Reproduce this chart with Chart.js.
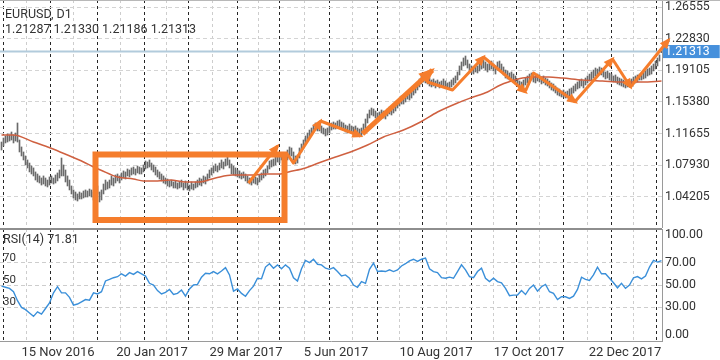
<!DOCTYPE html>
<html><head><meta charset="utf-8">
<script src="https://cdn.jsdelivr.net/npm/chart.js@4.4.1/dist/chart.umd.min.js"></script>
<style>
html,body{margin:0;padding:0;background:#fff}
#wrap{position:relative;width:720px;height:360px;overflow:hidden;background:#fff;font-family:Roboto,"DejaVu Sans",sans-serif;color:#333}
canvas{position:absolute;left:0}
.txt{position:absolute;white-space:nowrap;line-height:14px}
.rule{position:absolute;background:#8e8e8e}
</style></head><body>
<div id="wrap">
  <canvas id="cMain" width="720" height="228" style="top:0"></canvas>
  <canvas id="cRsi" width="720" height="131" style="top:229px"></canvas>
  <div class="rule" style="left:0;top:0;width:720px;height:1px;background:#b8b8b8"></div>
  <div class="rule" style="left:0;top:228px;width:662px;height:2px"></div>
  <div class="txt" id="tSym" style="left:5px;top:7px;font-size:12.5px"></div>
  <div class="txt" id="tOhlc" style="left:5px;top:22px;font-size:12.5px"></div>
  <div class="txt" id="tRsi" style="left:3px;top:232px;font-size:12.5px"></div>
</div>
<script>
// EURUSD D1 with moving average, hand-drawn trend annotations and RSI(14) pane.
Chart.defaults.font.family = "Roboto, 'DejaVu Sans', sans-serif";
Chart.defaults.color = "#333";
const $ = id => document.getElementById(id);
const ORANGE = "#f57d2c";

const symbol = "EURUSD", timeframe = "D1";
const ohlc = [1.21287, 1.21330, 1.21186, 1.21313];

// daily bars (one per bar index)
const highs = [
  1.1067,1.1114,1.1138,1.1162,1.1150,1.1185,1.1150,1.1173,1.1291,1.1091,
  1.1009,1.0950,1.0903,1.0856,1.0820,1.0785,1.0762,1.0715,1.0691,1.0668,
  1.0644,1.0668,1.0644,1.0620,1.0656,1.0668,1.0644,1.0679,1.0703,1.0738,
  1.0879,1.0797,1.0738,1.0668,1.0620,1.0550,1.0503,1.0479,1.0456,1.0479,
  1.0467,1.0491,1.0503,1.0491,1.0514,1.0503,1.0479,1.0526,1.0550,1.0479,
  1.0503,1.0573,1.0620,1.0597,1.0620,1.0668,1.0644,1.0679,1.0691,1.0668,
  1.0703,1.0727,1.0715,1.0750,1.0738,1.0762,1.0773,1.0750,1.0785,1.0773,
  1.0762,1.0797,1.0844,1.0832,1.0856,1.0820,1.0797,1.0773,1.0738,1.0715,
  1.0691,1.0668,1.0644,1.0632,1.0609,1.0620,1.0597,1.0609,1.0585,1.0597,
  1.0620,1.0585,1.0609,1.0585,1.0561,1.0597,1.0573,1.0597,1.0620,1.0644,
  1.0632,1.0668,1.0656,1.0691,1.0738,1.0762,1.0785,1.0809,1.0785,1.0820,
  1.0856,1.0832,1.0867,1.0891,1.0856,1.0809,1.0785,1.0762,1.0738,1.0727,
  1.0703,1.0715,1.0691,1.0668,1.0644,1.0632,1.0668,1.0656,1.0644,1.0679,
  1.0703,1.0738,1.0750,1.0785,1.0844,1.0856,1.0867,1.0891,1.0914,1.0903,
  1.0938,1.0903,1.0926,1.0973,1.1009,1.0997,1.0950,1.0903,1.0914,1.0997,
  1.1044,1.1091,1.1138,1.1173,1.1208,1.1232,1.1267,1.1291,1.1267,1.1279,
  1.1256,1.1232,1.1220,1.1232,1.1256,1.1291,1.1303,1.1291,1.1314,1.1326,
  1.1303,1.1291,1.1267,1.1256,1.1279,1.1256,1.1244,1.1256,1.1232,1.1220,
  1.1232,1.1279,1.1338,1.1397,1.1444,1.1467,1.1456,1.1432,1.1409,1.1420,
  1.1444,1.1432,1.1420,1.1456,1.1479,1.1467,1.1503,1.1526,1.1550,1.1573,
  1.1609,1.1597,1.1632,1.1656,1.1644,1.1679,1.1703,1.1726,1.1762,1.1809,
  1.1844,1.1856,1.1832,1.1844,1.1820,1.1797,1.1809,1.1785,1.1797,1.1773,
  1.1785,1.1809,1.1785,1.1762,1.1773,1.1797,1.1820,1.1844,1.1891,1.1962,
  1.2009,1.2056,1.2079,1.2032,1.1985,1.1962,1.1950,1.1973,1.1962,1.1985,
  1.2009,1.2032,1.2009,1.1985,1.1997,1.2020,1.1985,1.1962,1.2009,1.2020,
  1.1985,1.1950,1.1914,1.1903,1.1879,1.1891,1.1867,1.1844,1.1809,1.1785,
  1.1773,1.1797,1.1820,1.1844,1.1867,1.1879,1.1856,1.1844,1.1867,1.1856,
  1.1832,1.1844,1.1820,1.1809,1.1785,1.1762,1.1750,1.1726,1.1703,1.1691,
  1.1667,1.1679,1.1656,1.1667,1.1691,1.1703,1.1726,1.1750,1.1773,1.1797,
  1.1809,1.1785,1.1820,1.1844,1.1867,1.1891,1.1914,1.1938,1.1926,1.1950,
  1.1938,1.1914,1.1891,1.1903,1.1879,1.1867,1.1844,1.1856,1.1832,1.1820,
  1.1809,1.1797,1.1773,1.1797,1.1785,1.1809,1.1832,1.1844,1.1856,1.1867,
  1.1879,1.1891,1.1903,1.1926,1.1938,1.1962,1.1985,1.2020,1.2056,1.2092,
  1.2133];
const lows = [
  1.0973,1.1020,1.1056,1.1067,1.1079,1.1091,1.1056,1.1079,1.1067,1.0950,
  1.0903,1.0856,1.0797,1.0762,1.0715,1.0691,1.0668,1.0620,1.0597,1.0585,
  1.0561,1.0573,1.0550,1.0538,1.0561,1.0585,1.0573,1.0585,1.0609,1.0644,
  1.0668,1.0668,1.0597,1.0550,1.0503,1.0456,1.0409,1.0385,1.0373,1.0397,
  1.0397,1.0409,1.0420,1.0420,1.0432,1.0420,1.0385,1.0432,1.0456,1.0362,
  1.0385,1.0456,1.0503,1.0514,1.0526,1.0561,1.0550,1.0585,1.0609,1.0585,
  1.0620,1.0644,1.0632,1.0668,1.0656,1.0679,1.0691,1.0679,1.0703,1.0691,
  1.0691,1.0715,1.0750,1.0762,1.0773,1.0738,1.0715,1.0679,1.0656,1.0632,
  1.0609,1.0585,1.0573,1.0550,1.0538,1.0550,1.0526,1.0526,1.0514,1.0526,
  1.0538,1.0503,1.0526,1.0503,1.0491,1.0514,1.0503,1.0526,1.0538,1.0561,
  1.0550,1.0585,1.0573,1.0609,1.0644,1.0679,1.0703,1.0727,1.0715,1.0738,
  1.0762,1.0750,1.0785,1.0797,1.0762,1.0691,1.0679,1.0668,1.0656,1.0644,
  1.0632,1.0644,1.0609,1.0585,1.0573,1.0561,1.0585,1.0573,1.0561,1.0597,
  1.0620,1.0644,1.0668,1.0703,1.0750,1.0773,1.0785,1.0797,1.0832,1.0820,
  1.0856,1.0820,1.0844,1.0856,1.0891,1.0903,1.0856,1.0809,1.0820,1.0879,
  1.0950,1.0997,1.1044,1.1079,1.1114,1.1150,1.1185,1.1208,1.1197,1.1197,
  1.1173,1.1161,1.1138,1.1150,1.1173,1.1208,1.1220,1.1220,1.1232,1.1244,
  1.1232,1.1208,1.1185,1.1173,1.1197,1.1185,1.1161,1.1173,1.1150,1.1138,
  1.1138,1.1173,1.1232,1.1291,1.1350,1.1385,1.1373,1.1350,1.1338,1.1350,
  1.1362,1.1350,1.1338,1.1373,1.1397,1.1385,1.1409,1.1432,1.1467,1.1491,
  1.1514,1.1514,1.1538,1.1573,1.1561,1.1585,1.1620,1.1644,1.1679,1.1715,
  1.1750,1.1773,1.1762,1.1750,1.1726,1.1715,1.1726,1.1703,1.1726,1.1703,
  1.1715,1.1726,1.1703,1.1691,1.1703,1.1715,1.1738,1.1762,1.1797,1.1856,
  1.1914,1.1962,1.1973,1.1938,1.1903,1.1879,1.1867,1.1891,1.1879,1.1903,
  1.1926,1.1938,1.1914,1.1891,1.1914,1.1926,1.1903,1.1867,1.1914,1.1926,
  1.1891,1.1856,1.1820,1.1809,1.1797,1.1809,1.1785,1.1750,1.1726,1.1703,
  1.1691,1.1715,1.1738,1.1762,1.1785,1.1797,1.1773,1.1762,1.1785,1.1773,
  1.1750,1.1762,1.1738,1.1726,1.1703,1.1679,1.1667,1.1644,1.1620,1.1609,
  1.1597,1.1597,1.1585,1.1585,1.1609,1.1620,1.1644,1.1667,1.1691,1.1703,
  1.1726,1.1703,1.1738,1.1762,1.1785,1.1797,1.1820,1.1844,1.1844,1.1867,
  1.1856,1.1832,1.1809,1.1820,1.1797,1.1785,1.1773,1.1773,1.1750,1.1738,
  1.1726,1.1715,1.1703,1.1715,1.1715,1.1726,1.1750,1.1762,1.1773,1.1797,
  1.1797,1.1809,1.1820,1.1844,1.1856,1.1867,1.1903,1.1926,1.1962,1.2020,
  1.2119];

// moving average (red line), sampled along the bars
const maIdx = [0,6,16,24.5,33,41,46,49.5,58,66,71,78,84.5,92,98.5,107,115.5,125.5,132,139.5,143.5,152,
  158.5,167,174.5,183,191,201,209.5,218,228,234.5,243,249.5,253.5,260.5,267,273.5,280.5,290.5,300.5,310.5,320.5,330];
const maVal = [1.1150,1.1150,1.1067,1.0997,1.0914,1.0832,1.0773,1.0738,1.0656,1.0632,1.0609,1.0609,1.0620,1.0597,
  1.0597,1.0644,1.0679,1.0679,1.0691,1.0691,1.0715,1.0762,1.0820,1.0891,1.0950,1.1032,1.1126,1.1208,1.1303,1.1420,
  1.1526,1.1585,1.1656,1.1738,1.1773,1.1820,1.1832,1.1832,1.1820,1.1797,1.1785,1.1773,1.1773,1.1785];

// RSI(14), one reading every RSI_STEP bars
const RSI_STEP = 2;
const rsiVals = [
  49,48,47,44,36,30,28,25,22,26, 24,29,34,43,48.5,43,43,39,32,33,
  35,37,36.5,43,42,44,53.6,55,56.5,57.4, 60,58,61,59.5,62,60,58,51.5,50,45,
  42,43.5,46,41.5,42.5,45.5,40,46.5,50,50.5, 57,60.5,60,62,60,62.5,65.5,59,44.5,46.5,
  42.5,40,45,49,56,55.5,66,69,65,68, 64.5,68,65,56.5,53.5,64.5,72,70,73,68.5,
  68,65,64,65.5,62,58,59,56,50,48, 53,51.5,64,69.5,62,62.5,62,63.5,62,63.5,
  67,69,71.5,73,71,73,74,64.5,62,61, 56.5,56,57,56,62,68,63.5,57.5,56.5,62,
  65,56,53,56,53,52,47,40.5,41,41, 45,41.5,47,50,44.5,48.5,50.5,44,42.5,37,
  39.5,39.5,38,40,46,57,55,54,59,66, 60,60,56,52,47.5,51.5,47,50,56.5,57.5,
  55.5,58,66,72,70.5,71.81];

// axes
const priceTicks = [1.04205, 1.07930, 1.11655, 1.15380, 1.19105, 1.22830, 1.26555];
const PRICE_MIN = 1.00555, PRICE_MAX = 1.27379;
const rsiLevels = [30, 50, 70];
const monthLines = [0.75,24.25,47.75,71.25,93.25,117.75,138.75,163.75,187.75,210.25,234.75,257.25,280.75,304.75,327.25];
const midLines = [12.5,36,59.5,82.25,105.5,128.25,151.25,175.75,199,222.5,246,269,292.75,316];
const dateLabels = ["15 Nov 2016","20 Jan 2017","29 Mar 2017","5 Jun 2017","10 Aug 2017","17 Oct 2017","22 Dec 2017"];
const datePos = [28.25,75.25,122.25,167.25,217.25,263.75,311.75];

// annotations: box [bar from, bar to] x [price low, price high], arrows as [bar, price] paths
const boxIdx = [47, 141.5], boxPrice = [1.0150, 1.0920];
const arrowPaths = [
  [[123.5,1.0585],[138,1.1020]],
  [[142.5,1.0938],[146,1.0820],[159.5,1.1314]],
  [[159.5,1.1314],[179.5,1.1138]],
  [[180.5,1.1162],[215.5,1.1914]],
  [[213,1.1773],[225.5,1.1679],[241,1.2067]],
  [[241,1.2067],[262,1.1656]],
  [[262,1.1668],[266,1.1879],[287,1.1538]],
  [[287,1.1550],[305.5,1.2044]],
  [[305.5,1.2044],[314.5,1.1714]],
  [[314.5,1.1714],[333.5,1.2267]]];
const THICK = 3;

const X_MIN = -0.75, X_MAX = highs.length - 0.75;
const NONE = "rgba(0,0,0,0)";

const gridTicks = () => monthLines.map(v => ({value: v, kind: "m"})).concat(midLines.map(v => ({value: v, kind: "g"})));
const vGridColor = c => !c.tick ? NONE : c.tick.kind === "m" ? "#262626" : c.tick.kind === "g" ? "#cdcdcd" : NONE;

const arrowHeads = {
  id: "arrowHeads",
  afterDatasetsDraw(chart) {
    const ctx = chart.ctx;
    chart.data.datasets.forEach((ds, di) => {
      if (!ds.headSize) return;
      const pts = chart.getDatasetMeta(di).data, a = pts[pts.length - 2], b = pts[pts.length - 1];
      const ang = Math.atan2(b.y - a.y, b.x - a.x), L = ds.headSize, W = L * 0.85;
      const cs = Math.cos(ang), sn = Math.sin(ang), tx = b.x + cs * 3, ty = b.y + sn * 3;
      ctx.save(); ctx.fillStyle = ds.borderColor; ctx.beginPath();
      ctx.moveTo(tx, ty);
      ctx.lineTo(tx - L * cs + W / 2 * sn, ty - L * sn - W / 2 * cs);
      ctx.lineTo(tx - L * cs - W / 2 * sn, ty - L * sn + W / 2 * cs);
      ctx.closePath(); ctx.fill(); ctx.restore();
    });
  }
};

const baseOpts = {responsive: false, animation: false, events: [], layout: {padding: 0},
  plugins: {legend: {display: false}, tooltip: {enabled: false}}};
const yFit = s => { s.width = 58; s.paddingTop = 0; s.paddingBottom = 0; };

const box = [[boxIdx[0], boxPrice[1]], [boxIdx[1], boxPrice[1]], [boxIdx[1], boxPrice[0]], [boxIdx[0], boxPrice[0]], [boxIdx[0], boxPrice[1]]];

new Chart($("cMain"), {
  type: "bar",
  data: {datasets: [
    {type: "line", data: [{x: X_MIN, y: ohlc[3]}, {x: X_MAX, y: ohlc[3]}], borderColor: "#b2cbdc", borderWidth: 2, pointRadius: 0, order: 9},
    {type: "bar", data: highs.map((h, i) => ({x: i, y: [lows[i], h]})), backgroundColor: "#6a6a6a", barThickness: 1, borderWidth: 0, grouped: false, order: 8},
    {type: "line", data: maIdx.map((x, i) => ({x, y: maVal[i]})), borderColor: "#cf6040", borderWidth: 1.5, pointRadius: 0, cubicInterpolationMode: "monotone", order: 7},
    {type: "line", data: box.map(([x, y]) => ({x, y})), borderColor: ORANGE, borderWidth: 6, borderJoinStyle: "miter", borderCapStyle: "square", pointRadius: 0, order: 2},
    ...arrowPaths.map((p, k) => ({type: "line", data: p.map(([x, y]) => ({x, y})), borderColor: ORANGE, borderWidth: k === THICK ? 5 : 3,
      borderJoinStyle: "round", pointRadius: 0, clip: false, headSize: k === THICK ? 16 : 11, order: 1}))
  ]},
  options: {...baseOpts, scales: {
    x: {type: "linear", min: X_MIN, max: X_MAX, bounds: "data", offset: false,
      afterBuildTicks: s => { s.ticks = gridTicks(); },
      afterFit: s => { s.height = 0; s.paddingLeft = 0; s.paddingRight = 0; },
      ticks: {display: false}, grid: {offset: false, color: vGridColor, drawTicks: false}, border: {display: false, dash: [3, 3]}},
    y: {position: "right", min: PRICE_MIN, max: PRICE_MAX, bounds: "data",
      afterBuildTicks: s => { s.ticks = priceTicks.map(v => ({value: v})).concat([{value: ohlc[3], cur: true}]); },
      afterFit: yFit,
      ticks: {callback: v => v.toFixed(5), font: {size: 12.3, lineHeight: 0.9}, padding: 3,
        color: c => c.tick && c.tick.cur ? "#fff" : "#333", showLabelBackdrop: true,
        backdropColor: c => c.tick && c.tick.cur ? "#4690dc" : NONE, backdropPadding: {top: 1, bottom: 1, left: 2, right: 10}},
      grid: {color: c => c.tick && c.tick.cur ? NONE : "#d4d4d4", drawTicks: false},
      border: {display: true, color: "#9a9a9a", dash: [4, 3]}}
  }},
  plugins: [arrowHeads]
});

const rsiChart = new Chart($("cRsi"), {
  type: "line",
  data: {datasets: [{data: rsiVals.map((v, k) => ({x: k * RSI_STEP, y: v})), borderColor: "#3a8fd9", borderWidth: 1.4, pointRadius: 0, tension: 0}]},
  options: {...baseOpts, scales: {
    x: {type: "linear", min: X_MIN, max: X_MAX, bounds: "data", offset: false,
      afterBuildTicks: s => { s.ticks = gridTicks().concat(datePos.map((v, i) => ({value: v, kind: "l", lbl: dateLabels[i]}))).sort((a, b) => a.value - b.value); },
      afterFit: s => { s.height = 19; s.paddingLeft = 0; s.paddingRight = 0; },
      ticks: {autoSkip: false, maxRotation: 0, minRotation: 0, padding: 4, font: {size: 13}, callback: (v, i, t) => t[i].lbl || ""},
      grid: {offset: false, color: vGridColor, drawTicks: false}, border: {display: true, color: "#9a9a9a", dash: [3, 3]}},
    y: {position: "right", min: 0, max: 100, bounds: "data",
      // 0 and 100 labels sit 6px inside the pane edges, as in the terminal
      afterBuildTicks: s => { s.ticks = [{value: 5.4, lbl: "0.00"}].concat(rsiLevels.map(v => ({value: v, lbl: v.toFixed(2), g: true})), [{value: 94.6, lbl: "100.00"}]); },
      afterFit: yFit,
      ticks: {callback: (v, i, t) => t[i].lbl, font: {size: 12.3}, padding: 3},
      grid: {color: c => c.tick && c.tick.g ? "#cdcdcd" : NONE, drawTicks: false},
      border: {display: true, color: "#9a9a9a", dash: [4, 3]}}
  }}
});

$("tSym").textContent = symbol + ", " + timeframe;
$("tOhlc").textContent = ohlc.map(v => v.toFixed(5)).join(" ");
$("tRsi").textContent = "RSI(14) " + rsiVals[rsiVals.length - 1].toFixed(2);
rsiLevels.forEach(v => {
  const d = document.createElement("div");
  d.className = "txt"; d.textContent = v;
  d.style.cssText = "left:3px;font-size:11.5px;line-height:12px;top:" + (229 + rsiChart.scales.y.getPixelForValue(v) - 12) + "px";
  $("wrap").appendChild(d);
});
</script>
</body></html>
